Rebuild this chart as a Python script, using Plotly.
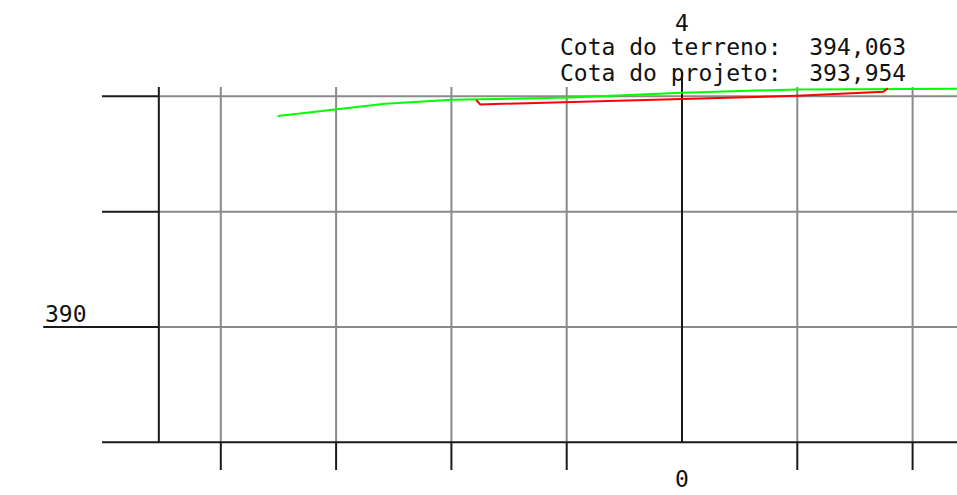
import plotly.graph_objects as go

# ---- data (stations in m, elevations in m) ----
terrain_x = [9.9, 28.5, 40.1, 60.6, 80.0, 100.0, 127.7]
terrain_y = [393.66, 393.87, 393.94, 393.98, 394.063, 394.12, 394.13]

project_x = [44.3, 45.0, 80.0, 100.0, 114.9, 115.7]
project_y = [393.936, 393.86, 393.954, 394.01, 394.08, 394.14]

grid_stations = [0, 20, 40, 60, 100, 120]
main_station = 80
frame_station = -10.75
grid_elevs = [388, 390, 392, 394]
label_elev = 390
station_label = "4"
distance_label = "0"
info_lines = ["Cota do terreno:  394,063", "Cota do projeto:  393,954"]

# ---- drawing extents ----
PXM = 5.765    # px per m horizontally
PYM = 57.67    # px per m vertically
X0, X1 = 80 - 682 / PXM, 80 + (957 - 682) / PXM
Y0, Y1 = 390 - (495 - 327) / PYM, 390 + 327 / PYM
grid_top = 394.16
main_top = 394.42
tick_bottom = 387.52
left_tick_start = -20.6
label_tick_start = -30.8

GRAY = "#8a8a8a"
BLACK = "#1a1a1a"

fig = go.Figure()

def seg_trace(xs, ys, color, width):
    fig.add_trace(go.Scatter(x=xs, y=ys, mode="lines", hoverinfo="skip",
                             line=dict(color=color, width=width), showlegend=False))

# gray horizontal grid lines (from frame to right edge)
xs, ys = [], []
for e in grid_elevs[1:]:
    xs += [frame_station, X1 + 5, None]
    ys += [e, e, None]
seg_trace(xs, ys, GRAY, 2)

# gray vertical grid lines
xs, ys = [], []
for s in grid_stations:
    xs += [s, s, None]
    ys += [grid_top, grid_elevs[0], None]
seg_trace(xs, ys, GRAY, 2)

# black elements: left frame, bottom line, left ticks, bottom ticks, main station
xs, ys = [], []
xs += [frame_station, frame_station, None]; ys += [grid_top, grid_elevs[0], None]
xs += [left_tick_start, X1 + 5, None]; ys += [grid_elevs[0], grid_elevs[0], None]
for e in grid_elevs[1:]:
    start = label_tick_start if e == label_elev else left_tick_start
    xs += [start, frame_station, None]; ys += [e, e, None]
for s in grid_stations:
    xs += [s, s, None]; ys += [grid_elevs[0], tick_bottom, None]
xs += [main_station, main_station, None]; ys += [main_top, grid_elevs[0], None]
seg_trace(xs, ys, BLACK, 2)

# terrain and project profiles
fig.add_trace(go.Scatter(x=terrain_x, y=terrain_y, mode="lines", hoverinfo="skip",
                         line=dict(color="#00ff00", width=2), showlegend=False))
fig.add_trace(go.Scatter(x=project_x, y=project_y, mode="lines", hoverinfo="skip",
                         line=dict(color="#ff0000", width=2), showlegend=False))

FONT = dict(family="DejaVu Sans Mono", size=23, color="#111111")
ann = [
    dict(x=main_station, y=395.27, text=station_label, xanchor="center", yanchor="middle"),
    dict(x=main_station + 8.8, y=394.86, text=info_lines[0], xanchor="center", yanchor="middle"),
    dict(x=main_station + 8.8, y=394.40, text=info_lines[1], xanchor="center", yanchor="middle"),
    dict(x=main_station, y=387.104, text=distance_label, xanchor="center", yanchor="bottom"),
    dict(x=label_tick_start, y=390.22, text=str(label_elev), xanchor="left", yanchor="middle"),
]
for a in ann:
    fig.add_annotation(**a, showarrow=False, font=FONT, xref="x", yref="y")

fig.update_layout(
    width=957, height=495, margin=dict(l=0, r=0, t=0, b=0),
    paper_bgcolor="white", plot_bgcolor="white",
    xaxis=dict(range=[X0, X1], visible=False, fixedrange=True),
    yaxis=dict(range=[Y0, Y1], visible=False, fixedrange=True),
)
fig.write_html("out.html", config={"displayModeBar": False},
               post_script="document.body.style.margin='0px';document.body.style.overflow='hidden';")
